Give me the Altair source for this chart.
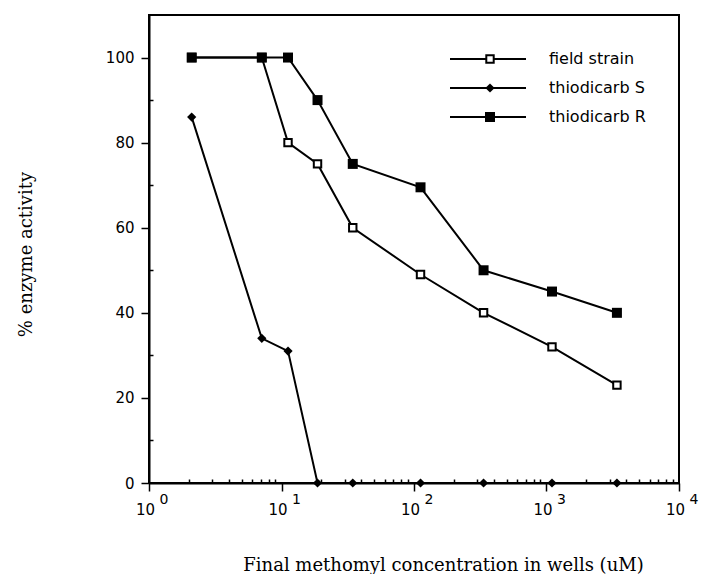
import altair as alt
import pandas as pd

# ---- data ----
conc = [2.1, 7.1, 11.2, 18.7, 34.5, 112, 335, 1100, 3400]
field_strain = [100, 100, 80, 75, 60, 49, 40, 32, 23]
thiodicarb_s = [86, 34, 31, 0, 0, 0, 0, 0, 0]
thiodicarb_r = [100, 100, 100, 90, 75, 69.5, 50, 45, 40]
series_names = ["field strain", "thiodicarb S", "thiodicarb R"]

y_major = [0, 20, 40, 60, 80, 100]
y_minor = [10, 30, 50, 70, 90]
x_major = [1, 10, 100, 1000, 10000]
x_exponents = ["0", "1", "2", "3", "4"]
x_minor = [m * 10 ** k for k in range(4) for m in range(2, 10)]

W, H = 530, 468

xs = alt.Scale(type="log", domain=[1, 10000], nice=False)
ys = alt.Scale(domain=[0, 110], nice=False, zero=False)

df_f = pd.DataFrame({"conc": conc, "act": field_strain})
df_s = pd.DataFrame({"conc": conc, "act": thiodicarb_s})
df_r = pd.DataFrame({"conc": conc, "act": thiodicarb_r})

x_main_axis = alt.Axis(
    orient="bottom", values=x_major, labelExpr="'10'", labelOffset=-4,
    labelFlush=False, labelOverlap=False,
    tickSize=8, labelPadding=11, labelFont="DejaVu Sans", labelFontSize=15,
    title="Final methomyl concentration in wells (uM)", titleFont="DejaVu Serif",
    titleFontSize=18, titleFontWeight="normal", titleX=294, titleY=82,
    titleAlign="center", titleBaseline="middle", grid=False,
)
y_main_axis = alt.Axis(
    orient="left", values=y_major, tickSize=8, labelPadding=7,
    labelFont="DejaVu Sans", labelFontSize=15, labelFlush=False,
    title="% enzyme activity", titleFont="DejaVu Serif", titleFontSize=18,
    titleFontWeight="normal", titleAngle=270, titleX=-123, titleY=239,
    titleAlign="center", titleBaseline="middle", grid=False,
)
x_minor_axis = alt.Axis(orient="top", offset=-H, values=x_minor, labels=False,
                        domain=False, tickSize=4, title=None, grid=False)
y_minor_axis = alt.Axis(orient="right", offset=-W, values=y_minor, labels=False,
                        domain=False, tickSize=4, title=None, grid=False)

line_kw = dict(color="black", strokeWidth=2)

field_line = alt.Chart(df_f).mark_line(**line_kw).encode(
    x=alt.X("conc:Q", scale=xs, axis=x_main_axis),
    y=alt.Y("act:Q", scale=ys, axis=y_main_axis),
)
s_line = alt.Chart(df_s).mark_line(**line_kw).encode(
    x=alt.X("conc:Q", scale=xs, axis=x_minor_axis),
    y=alt.Y("act:Q", scale=ys, axis=y_minor_axis),
)
r_line = alt.Chart(df_r).mark_line(**line_kw).encode(
    x=alt.X("conc:Q", scale=xs, axis=None),
    y=alt.Y("act:Q", scale=ys, axis=None),
)

f_mark = dict(shape="square", filled=True, fill="white", stroke="black",
              strokeWidth=2, size=55, opacity=1)
s_mark = dict(shape="diamond", filled=True, color="black", size=85, opacity=1)
r_mark = dict(shape="square", filled=True, color="black", size=100, opacity=1)

field_pts = alt.Chart(df_f).mark_point(**f_mark).encode(
    x=alt.X("conc:Q", scale=xs, axis=None), y=alt.Y("act:Q", scale=ys, axis=None))
s_pts = alt.Chart(df_s).mark_point(**s_mark).encode(
    x=alt.X("conc:Q", scale=xs, axis=None), y=alt.Y("act:Q", scale=ys, axis=None))
r_pts = alt.Chart(df_r).mark_point(**r_mark).encode(
    x=alt.X("conc:Q", scale=xs, axis=None), y=alt.Y("act:Q", scale=ys, axis=None))

# exponents of the decade labels
df_exp = pd.DataFrame({"v": x_major, "e": x_exponents})
exps = alt.Chart(df_exp).mark_text(
    align="center", baseline="top", dx=15, fontSize=14, font="DejaVu Sans", color="black"
).encode(x=alt.X("v:Q", scale=xs, axis=None), y=alt.value(H + 10), text="e:N")

# legend
legend_layers = []
row_y = [44, 73, 102]
for name, yy, mk in zip(series_names, row_y, [f_mark, s_mark, r_mark]):
    ldf = pd.DataFrame({"s": [name]})
    legend_layers.append(alt.Chart(ldf).mark_rule(color="black", strokeWidth=2).encode(
        x=alt.value(301), x2=alt.value(377), y=alt.value(yy)))
    legend_layers.append(alt.Chart(ldf).mark_point(**mk).encode(
        x=alt.value(341), y=alt.value(yy)))
    legend_layers.append(alt.Chart(ldf).mark_text(
        align="left", baseline="middle", fontSize=16, font="DejaVu Sans", color="black"
    ).encode(x=alt.value(400), y=alt.value(yy), text="s:N"))

chart = alt.layer(
    field_line, s_line, r_line, field_pts, s_pts, r_pts, exps, *legend_layers
).resolve_axis(x="independent", y="independent").properties(
    width=W, height=H,
    padding={"left": 141, "top": 7, "right": 21, "bottom": 91},
    autosize=alt.AutoSizeParams(type="none"),
    background="white",
).configure_view(stroke="black", strokeWidth=2).configure_axis(
    domainColor="black", domainWidth=2, tickColor="black", tickWidth=1.5,
    labelColor="black", titleColor="black",
)

chart.save("out.html", embed_options={"renderer": "svg", "actions": False})
